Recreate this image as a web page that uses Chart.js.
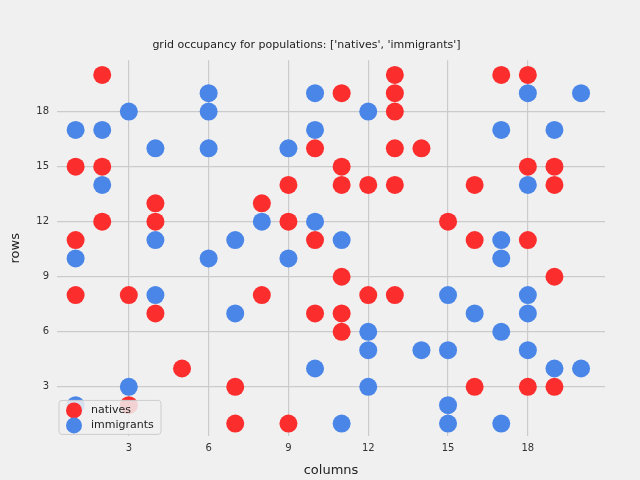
<!DOCTYPE html>
<html><head><meta charset="utf-8">
<script src="https://cdn.jsdelivr.net/npm/chart.js@4/dist/chart.umd.min.js"></script>
<style>html,body{margin:0;background:#f0f0f0}#w{width:640px;height:480px;position:relative}</style>
</head><body><div id="w"><canvas id="c" width="640" height="480" style="width:640px;height:480px"></canvas></div>
<script>
const nativesX=[2,1,2,2,1,1,3,4,4,4,5,3,7,7,8,8,9,9,9,10,10,10,11,11,11,11,11,11,12,12,13,13,13,13,13,13,14,15,16,16,16,17,18,18,18,18,19,19,19,19];
const nativesY=[20,15,15,12,11,8,8,13,12,7,4,2,3,1,13,8,14,12,1,16,11,7,19,15,14,9,7,6,14,8,20,19,18,16,14,8,16,12,14,11,3,20,20,15,11,3,15,14,9,3];
const immigrantsX=[1,2,2,1,3,4,4,4,3,1,6,6,6,6,7,7,8,9,9,10,10,10,10,11,11,12,12,12,12,14,15,15,15,15,16,17,17,17,17,17,18,18,18,18,18,19,19,20,20];
const immigrantsY=[17,17,14,10,18,16,11,8,3,2,19,18,16,10,11,7,12,16,10,19,17,12,4,11,1,18,6,5,3,5,8,5,2,1,7,17,11,10,6,1,19,14,8,7,5,17,4,19,4];
const tickVals=[3,6,9,12,15,18];
const pts=(xs,ys)=>xs.map((x,i)=>({x,y:ys[i]}));
const RED='#fc2d2d', BLUE='#4a86e8';
const legendPlugin={id:'lg',afterDraw(ch){const c=ch.ctx,a=ch.chartArea;const x=a.left+2,y=a.bottom-36;
c.save();c.fillStyle='rgba(240,240,240,0.85)';c.strokeStyle='#cccccc';c.lineWidth=1;
c.beginPath();c.roundRect(x,y,102,34,3);c.fill();c.stroke();
c.font='11px "DejaVu Sans"';c.textBaseline='middle';
[[RED,'natives',y+10],[BLUE,'immigrants',y+25]].forEach(([col,t,yy])=>{c.fillStyle=col;c.beginPath();c.arc(x+15,yy,8,0,Math.PI*2);c.fill();c.fillStyle='#222';c.fillText(t,x+32,yy);});
c.restore();}};
new Chart(document.getElementById('c'),{type:'scatter',
data:{datasets:[
{label:'natives',data:pts(nativesX,nativesY),backgroundColor:RED,borderWidth:0,pointRadius:9,pointHoverRadius:9,order:2},
{label:'immigrants',data:pts(immigrantsX,immigrantsY),backgroundColor:BLUE,borderWidth:0,pointRadius:9,pointHoverRadius:9,order:1}]},
options:{responsive:false,maintainAspectRatio:false,animation:false,devicePixelRatio:1,
layout:{padding:{left:8,right:35,top:6,bottom:2}},
plugins:{legend:{display:false},tooltip:{enabled:false},
title:{display:true,text:"grid occupancy for populations: ['natives', 'immigrants']",color:'#222',font:{family:'DejaVu Sans',size:11,weight:'normal'},padding:{top:33,bottom:8}}},
scales:{
x:{type:'linear',min:0.3,max:20.9,afterBuildTicks:s=>{s.ticks=tickVals.map(v=>({value:v}))},
grid:{color:'#cbcbcb',lineWidth:1.2,drawTicks:false},border:{display:false},
ticks:{color:'#333',font:{family:'DejaVu Sans',size:10},padding:6},
title:{display:true,text:'columns',color:'#222',font:{family:'DejaVu Sans',size:13},padding:{top:2,bottom:0}}},
y:{type:'linear',min:0.3,max:20.8,afterBuildTicks:s=>{s.ticks=tickVals.map(v=>({value:v}))},
afterFit:s=>{s.width=49},
grid:{color:'#cbcbcb',lineWidth:1.2,drawTicks:false},border:{display:false},
ticks:{color:'#333',font:{family:'DejaVu Sans',size:10},padding:8},
title:{display:true,text:'rows',color:'#222',font:{family:'DejaVu Sans',size:13},padding:{top:0,bottom:4}}}}},
plugins:[legendPlugin]});
</script></body></html>
